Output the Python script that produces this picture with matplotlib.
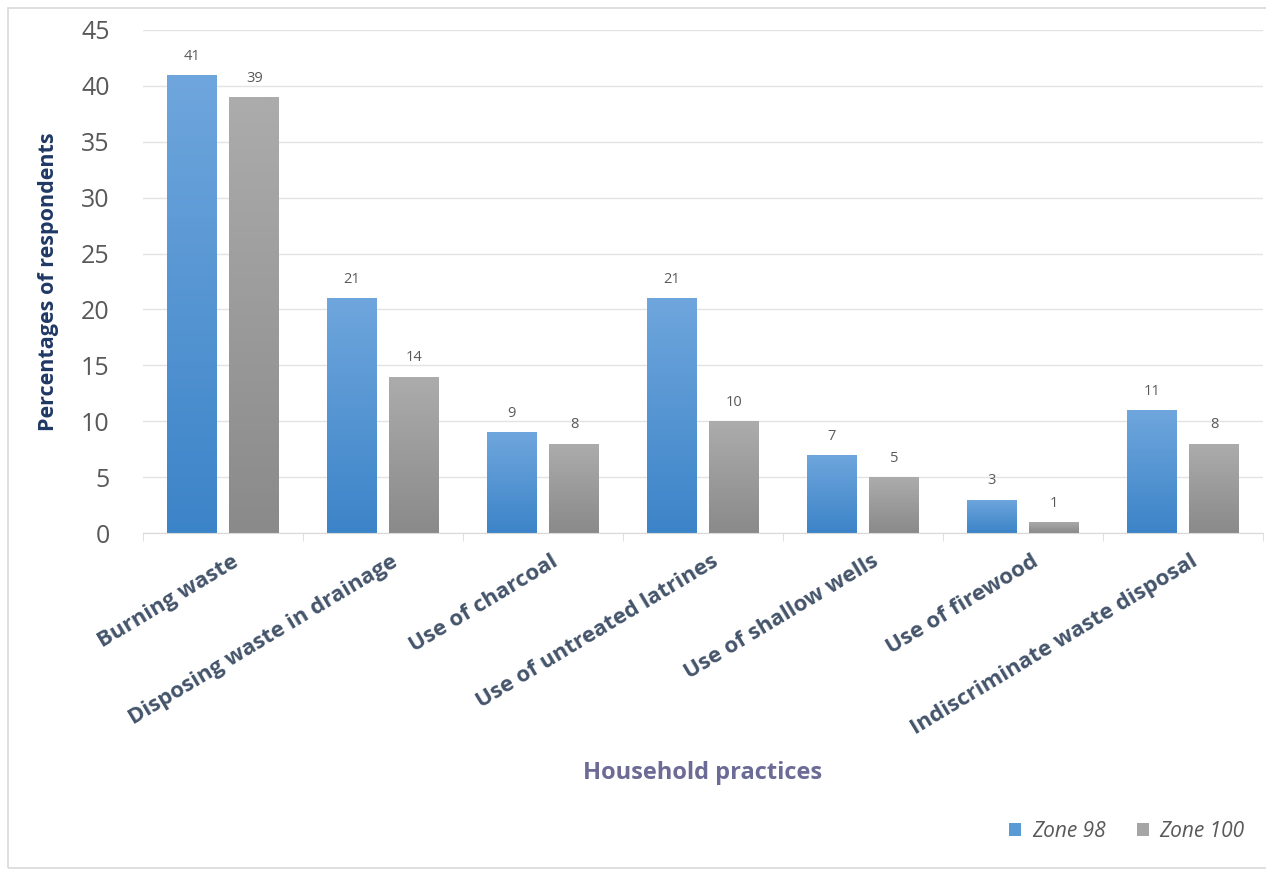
import matplotlib
matplotlib.use("Agg")
import matplotlib.pyplot as plt
import matplotlib.transforms as mtransforms
import numpy as np
from matplotlib.patches import Rectangle
from matplotlib.colors import LinearSegmentedColormap

categories = ["Burning waste", "Disposing waste in drainage", "Use of charcoal",
              "Use of untreated latrines", "Use of shallow wells", "Use of firewood",
              "Indiscriminate waste disposal"]
zone98 = [41, 21, 9, 21, 7, 3, 11]
zone100 = [39, 14, 8, 10, 5, 1, 8]
series_names = ["Zone 98", "Zone 100"]
yticks = [0, 5, 10, 15, 20, 25, 30, 35, 40, 45]

plt.rcParams['font.family'] = ['Open Sans', 'DejaVu Sans']

fig = plt.figure(figsize=(12.66, 8.69), dpi=100)
ax = fig.add_axes([0.113, 0.3866, 0.8846, 0.5789])

# outer frame (right edge runs off the picture)
fig.patches.append(Rectangle((0.0065, 0.0015), 1.1, 0.989, transform=fig.transFigure,
                             fill=False, edgecolor="#d9d9d9", linewidth=1.2))

x = np.arange(len(categories))
w = 0.31
off = 0.195
blue_cmap = LinearSegmentedColormap.from_list("b", ["#3c84c8", "#6fa6dd"])
gray_cmap = LinearSegmentedColormap.from_list("g", ["#8a8a8a", "#acacac"])
b1 = ax.bar(x - off, zone98, w, color="#5b9bd5", label=series_names[0], zorder=2)
b2 = ax.bar(x + off, zone100, w, color="#a5a5a5", label=series_names[1], zorder=2)

grad = np.linspace(0, 1, 256).reshape(-1, 1)
for bars, cmap in ((b1, blue_cmap), (b2, gray_cmap)):
    for p in bars:
        x0, y0 = p.get_x(), p.get_y()
        im = ax.imshow(grad, cmap=cmap, origin="lower", aspect="auto",
                       extent=[x0, x0 + p.get_width(), y0, y0 + p.get_height()], zorder=2.5)
        im.set_clip_path(p)

for bars, vals in ((b1, zone98), (b2, zone100)):
    for p, v in zip(bars, vals):
        ax.annotate(str(v), (p.get_x() + p.get_width() / 2, v), xytext=(0, 8),
                    textcoords="offset points", ha="center", va="bottom",
                    fontsize=10.5, color="#595959")

ax.set_xlim(-0.5, len(categories) - 0.5)
ax.set_ylim(0, 45)
ax.set_yticks(yticks)
ax.tick_params(axis="y", length=0, labelsize=18, labelcolor="#595959", pad=24)
ax.yaxis.grid(True, color="#e3e3e3", linewidth=1.0, zorder=0)
ax.set_axisbelow(True)

# category separators as minor ticks
ax.set_xticks(np.arange(-0.5, len(categories)), minor=True)
ax.set_xticks(x)
ax.set_xticklabels(categories, rotation=31, ha="right", rotation_mode="anchor",
                   fontsize=16, fontweight="bold", color="#44546a")
ax.tick_params(axis="x", which="major", length=0, pad=13)
ax.tick_params(axis="x", which="minor", length=6, color="#d9d9d9", direction="out")
shift = mtransforms.ScaledTranslation(8 / 100, 0, fig.dpi_scale_trans)
for lbl in ax.get_xticklabels():
    lbl.set_transform(lbl.get_transform() + shift)

for s in ["top", "right", "left"]:
    ax.spines[s].set_visible(False)
ax.spines["bottom"].set_color("#d9d9d9")

ax.set_ylabel("Percentages of respondents", fontsize=15.5, fontweight="bold", color="#1f3864", labelpad=16)
fig.text(0.555, 0.111, "Household practices", ha="center", va="center",
         fontsize=17, fontweight="bold", color="#6b6b96")

leg = fig.legend(handles=[b1, b2], labels=series_names, loc="center", bbox_to_anchor=(0.89, 0.043),
                 ncol=2, frameon=False, handlelength=0.6, handleheight=0.6, columnspacing=1.5,
                 handletextpad=0.5, prop={"style": "italic", "size": 15})
for t in leg.get_texts():
    t.set_color("#595959")

fig.savefig("out.png", dpi=100)
